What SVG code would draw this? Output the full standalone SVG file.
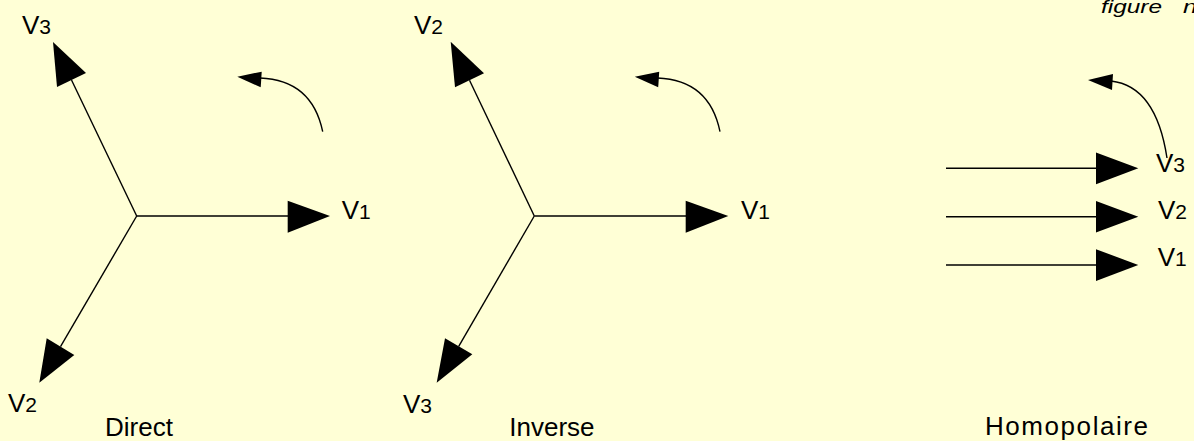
<svg xmlns="http://www.w3.org/2000/svg" width="1194" height="441" viewBox="0 0 1194 441">
<style>
.ln{stroke:#000;stroke-width:1.4;fill:none}
.ah{fill:#000;stroke:none}
.t{font-family:"Liberation Sans",Arial,sans-serif;font-size:26px;fill:#000}
.s{font-size:21px}
.fig{font-family:"Liberation Sans",Arial,sans-serif;font-size:18px;font-style:italic;fill:#000}
</style>
<rect width="1194" height="441" fill="#FFFFD6"/>
<g id="caption">
<text class="fig" x="1101" y="13" textLength="61" lengthAdjust="spacingAndGlyphs">figure</text>
<text class="fig" x="1183" y="13" textLength="14" lengthAdjust="spacingAndGlyphs">n</text>
</g>

<g id="direct">
<text class="t" x="22" y="34">V<tspan class="s">3</tspan></text>
<text class="t" x="341.7" y="219">V<tspan class="s">1</tspan></text>
<text class="t" x="8" y="412">V<tspan class="s">2</tspan></text>
<text class="t" x="105" y="436">Direct</text>
</g>

<g id="inverse">
<text class="t" x="414" y="34">V<tspan class="s">2</tspan></text>
<text class="t" x="741" y="219">V<tspan class="s">1</tspan></text>
<text class="t" x="403" y="413">V<tspan class="s">3</tspan></text>
<text class="t" x="509.3" y="436">Inverse</text>
</g>

<g id="homopolaire">
<text class="t" x="1156" y="172">V<tspan class="s">3</tspan></text>
<text class="t" x="1158" y="219">V<tspan class="s">2</tspan></text>
<text class="t" x="1157.7" y="266">V<tspan class="s">1</tspan></text>
<text class="t" x="985" y="435" textLength="163">Homopolaire</text>
</g>

<g id="connectors">
<line class="ln" x1="136.7" y1="216" x2="288" y2="216"/>
<polygon class="ah" points="287.7,200.7 330,216 287.7,232.7"/>
<line class="ln" x1="136.7" y1="216" x2="71.5" y2="80"/>
<polygon class="ah" points="53,42 86,73 57,87"/>
<line class="ln" x1="136.7" y1="216" x2="60.5" y2="346.7"/>
<polygon class="ah" points="39.3,382.7 46.7,338.3 74.3,355"/>
<path class="ln" d="M322.7,131.7 Q312,80 260,78"/>
<polygon class="ah" points="237.3,76.7 261.7,71.7 260.7,87.3"/>

<line class="ln" x1="534.3" y1="216" x2="686" y2="216"/>
<polygon class="ah" points="685.7,200.7 728.3,216 685.7,232.7"/>
<line class="ln" x1="534.3" y1="216" x2="469.5" y2="80.3"/>
<polygon class="ah" points="450.7,41.7 484,73.3 455,87.3"/>
<line class="ln" x1="534.3" y1="216" x2="458.7" y2="346.3"/>
<polygon class="ah" points="436.7,382.7 445,338.3 472.3,354.3"/>
<path class="ln" d="M720,131.7 Q709.5,80 657.5,78"/>
<polygon class="ah" points="634.8,76.7 659.2,71.7 658.2,87.3"/>

<line class="ln" x1="946" y1="168.3" x2="1097" y2="168.3"/>
<polygon class="ah" points="1096,152.5 1138.3,168.3 1096,184.2"/>
<line class="ln" x1="946" y1="216.7" x2="1097" y2="216.7"/>
<polygon class="ah" points="1096,200.9 1138.3,216.7 1096,232.6"/>
<line class="ln" x1="946" y1="265" x2="1097" y2="265"/>
<polygon class="ah" points="1096,249.2 1138.3,265 1096,280.9"/>
<path class="ln" d="M1167,158 Q1156,86 1111,81"/>
<polygon class="ah" points="1088,80 1113,74 1112,90"/>
</g>
</svg>
